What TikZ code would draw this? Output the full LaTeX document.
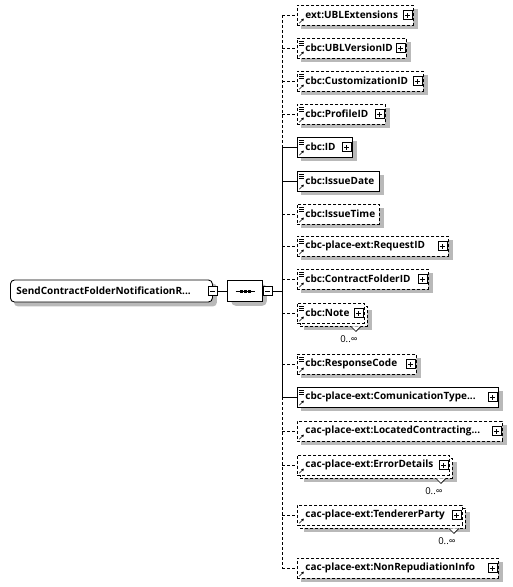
\documentclass[tikz,border=0pt]{standalone}
\usepackage{fontspec}
\setmainfont{Open Sans}
\usetikzlibrary{shapes.misc, arrows.meta, positioning, backgrounds}

\definecolor{elemink}{RGB}{0, 0, 0}
\definecolor{shadowgray}{RGB}{185, 185, 185}

\newcommand{\elname}[2]{\makebox[#1][l]{#2}}
\newcommand{\refmark}{\draw[solid, line width=0.6pt, -{Triangle[length=2.4pt, width=2.6pt]}] ([shift={(1.8pt,1.8pt)}]path picture bounding box.south west) -- ++(4.6pt,4.6pt);}
\newcommand{\simplemark}{\foreach \dy in {3,5,7} {\draw[solid, line width=0.6pt] ([shift={(2pt,-\dy pt)}]path picture bounding box.north west) -- ++(5pt,0pt);}}
\newcommand{\plusmark}{\draw[solid, line width=0.7pt, fill=white] ([shift={(-10.5pt,-4.5pt)}]path picture bounding box.east) rectangle ++(9pt,9pt);
    \draw[solid, line width=0.7pt] ([shift={(-8.5pt,0pt)}]path picture bounding box.east) -- ++(5pt,0pt) ([shift={(-6pt,-2.5pt)}]path picture bounding box.east) -- ++(0pt,5pt);}

\tikzset{
    elembox/.style={draw, rectangle, fill=white, line width=0.9pt, minimum height=20pt, inner xsep=8pt, inner ysep=0pt, anchor=west, font=\bfseries\fontsize{10}{12}\selectfont, text=elemink},
    optbox/.style={dash pattern=on 3pt off 2pt},
    complexexp/.style={path picture={\refmark\plusmark}},
    simpleexp/.style={path picture={\refmark\simplemark\plusmark}},
    simpleleaf/.style={path picture={\refmark\simplemark}},
    rootbox/.style={elembox, rounded corners=4pt, minimum height=22pt, inner xsep=6pt},
    seqbox/.style={draw, chamfered rectangle, chamfered rectangle xsep=6pt, fill=white, line width=0.9pt, minimum width=35pt, minimum height=21pt, inner sep=0pt},
    expbox/.style={draw, rectangle, fill=white, line width=0.7pt, minimum size=9pt, inner sep=0pt, path picture={\draw[line width=0.7pt] ([xshift=-2.5pt]path picture bounding box.center) -- ([xshift=2.5pt]path picture bounding box.center);}},
    repnotch/.style={draw, fill=white, line width=0.6pt},
    occurs/.style={font=\fontsize{9.5}{11}\selectfont, inner sep=0pt},
    reqline/.style={draw, line width=0.9pt},
    optline/.style={reqline, dash pattern=on 3pt off 2pt},
    boxshadow/.style={fill=shadowgray, draw=none},
}

\begin{document}
\begin{tikzpicture}[x=1pt, y=-1pt]
\useasboundingbox (0,0) rectangle (512,587);

% root element and its sequence
\node[rootbox, minimum width=202pt] (root) at (10,291) {\elname{190pt}{SendContractFolderNotificationR...}};
\node[expbox] (root-m) at (root.east) {};
\node[seqbox] (seq) at (245,291) {};
\node[expbox, anchor=west] (seq-m) at (seq.east) {};
\draw[reqline] ([xshift=-9.5pt]seq.center) -- ([xshift=9.5pt]seq.center);
\foreach \dx in {-4,0,4}
    \fill ([xshift=\dx pt]seq.center) +(-1.5pt,-1.5pt) rectangle +(1.5pt,1.5pt);
\coordinate (spine) at (282,291);
\draw[reqline] (root-m) -- (seq);
\draw[reqline] (seq-m) -- (spine);

% children
\node[elembox, optbox, complexexp] (ublext) at (297,15) {\elname{100pt}{ext:UBLExtensions}};
\node[elembox, optbox, simpleexp] (ublver) at (297,48) {\elname{93pt}{cbc:UBLVersionID}};
\node[elembox, optbox, simpleexp] (custid) at (297,81) {\elname{110pt}{cbc:CustomizationID}};
\node[elembox, optbox, simpleexp] (profid) at (297,114) {\elname{72pt}{cbc:ProfileID}};
\node[elembox, simpleexp] (id) at (297,147) {\elname{39pt}{cbc:ID}};
\node[elembox, simpleleaf] (issdate) at (297,181) {\elname{66pt}{cbc:IssueDate}};
\node[elembox, optbox, simpleleaf] (isstime) at (297,214) {\elname{66pt}{cbc:IssueTime}};
\node[elembox, optbox, simpleexp] (reqid) at (297,246) {\elname{135pt}{cbc-place-ext:RequestID}};
\node[elembox, optbox, simpleexp] (cfid) at (297,279) {\elname{115pt}{cbc:ContractFolderID}};

\node[elembox, optbox, minimum width=67pt] (note-bk) at (300,316) {};
\node[elembox, optbox, simpleexp] (note) at (297,313) {\elname{51pt}{cbc:Note}};
\draw[repnotch] ([xshift=-17pt]note-bk.south east) -- ++(5pt,-5pt) -- ++(5pt,5pt);
\node[occurs] (note-occ) at ([xshift=-19pt,yshift=-13pt]note-bk.south east) {0..∞};

\node[elembox, optbox, simpleexp] (respcode) at (297,364) {\elname{103pt}{cbc:ResponseCode}};
\node[elembox, simpleexp] (commtype) at (297,397) {\elname{185pt}{cbc-place-ext:ComunicationType...}};
\node[elembox, optbox, complexexp] (loccont) at (297,431) {\elname{189pt}{cac-place-ext:LocatedContracting...}};

\node[elembox, optbox, minimum width=152pt] (errdet-bk) at (300,468) {};
\node[elembox, optbox, complexexp] (errdet) at (297,465) {\elname{136pt}{cac-place-ext:ErrorDetails}};
\draw[repnotch] ([xshift=-17pt]errdet-bk.south east) -- ++(5pt,-5pt) -- ++(5pt,5pt);
\node[occurs] (errdet-occ) at ([xshift=-19pt,yshift=-13pt]errdet-bk.south east) {0..∞};

\node[elembox, optbox, minimum width=165pt] (tender-bk) at (300,518) {};
\node[elembox, optbox, complexexp] (tender) at (297,515) {\elname{149pt}{cac-place-ext:TendererParty}};
\draw[repnotch] ([xshift=-17pt]tender-bk.south east) -- ++(5pt,-5pt) -- ++(5pt,5pt);
\node[occurs] (tender-occ) at ([xshift=-19pt,yshift=-13pt]tender-bk.south east) {0..∞};

\node[elembox, optbox, complexexp] (nonrep) at (297,568) {\elname{185pt}{cac-place-ext:NonRepudiationInfo}};

% shadows
\begin{scope}[on background layer]
\path[boxshadow, rounded corners=4pt] ([shift={(4pt,-4pt)}]root.north west) rectangle ([shift={(4pt,-4pt)}]root.south east);
\path[boxshadow, rounded corners=5pt] ([shift={(4pt,-4pt)}]seq.north -| seq.west) rectangle ([shift={(4pt,-4pt)}]seq.south -| seq.east);
\foreach \n in {ublext, ublver, custid, profid, id, issdate, isstime, reqid, cfid, note-bk, respcode, commtype, loccont, errdet-bk, tender-bk, nonrep}
    \path[boxshadow] ([shift={(4pt,-4pt)}]\n.north west) rectangle ([shift={(4pt,-4pt)}]\n.south east);
\end{scope}

% spine and connectors
\draw[optline] (spine |- ublext.west) -- (spine |- id.west);
\draw[reqline] (spine |- id.west) -- (spine |- commtype.west);
\draw[optline] (spine |- commtype.west) -- (spine |- nonrep.west);
\draw[optline] (spine |- ublext.west) -- (ublext.west);
\draw[optline] (spine |- ublver.west) -- (ublver.west);
\draw[optline] (spine |- custid.west) -- (custid.west);
\draw[optline] (spine |- profid.west) -- (profid.west);
\draw[reqline] (spine |- id.west) -- (id.west);
\draw[reqline] (spine |- issdate.west) -- (issdate.west);
\draw[optline] (spine |- isstime.west) -- (isstime.west);
\draw[optline] (spine |- reqid.west) -- (reqid.west);
\draw[optline] (spine |- cfid.west) -- (cfid.west);
\draw[optline] (spine |- note.west) -- (note.west);
\draw[optline] (spine |- respcode.west) -- (respcode.west);
\draw[reqline] (spine |- commtype.west) -- (commtype.west);
\draw[optline] (spine |- loccont.west) -- (loccont.west);
\draw[optline] (spine |- errdet.west) -- (errdet.west);
\draw[optline] (spine |- tender.west) -- (tender.west);
\draw[optline] (spine |- nonrep.west) -- (nonrep.west);
\end{tikzpicture}
\end{document}
